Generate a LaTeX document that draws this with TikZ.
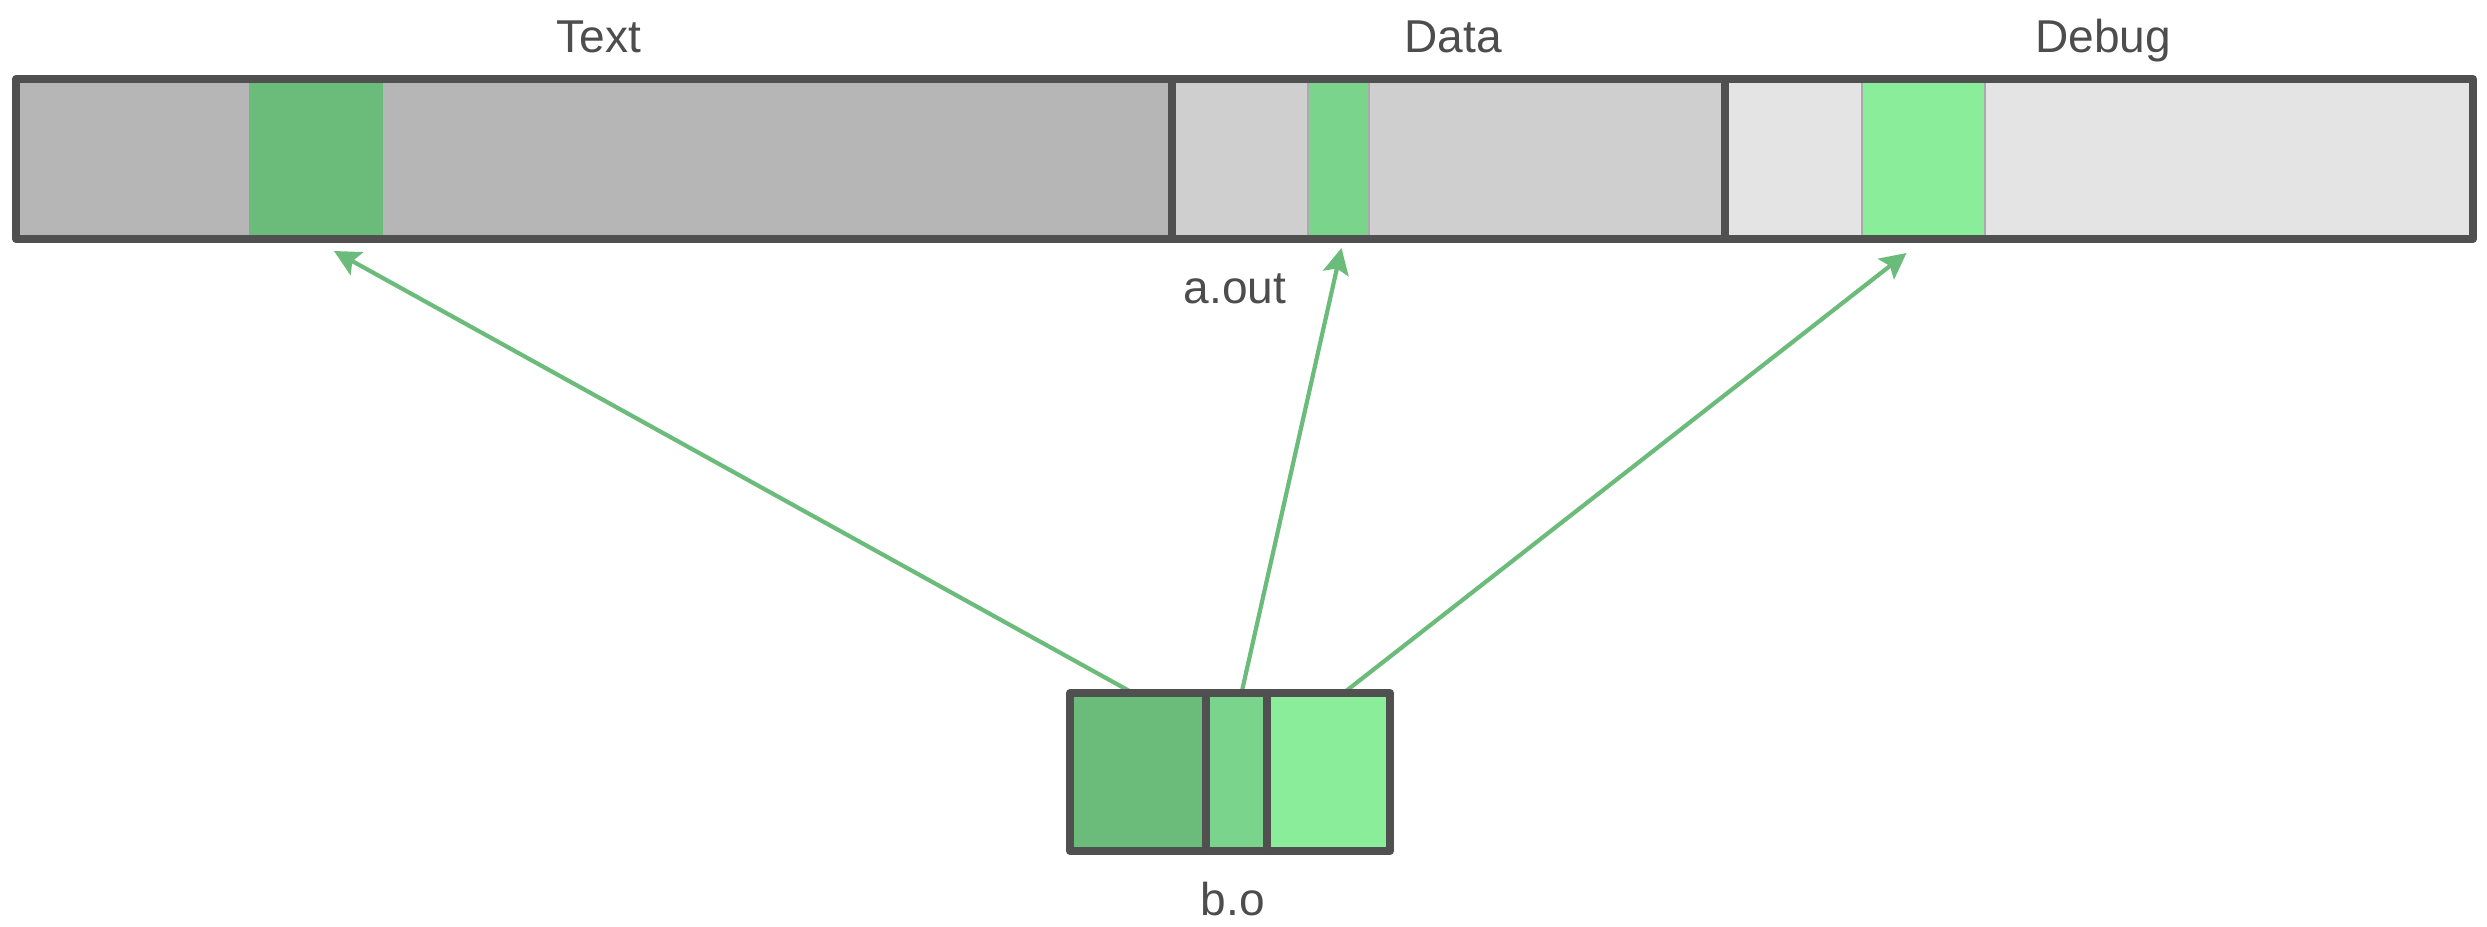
\documentclass[tikz,border=0pt]{standalone}
\usepackage{fontspec}
\setmainfont{Liberation Sans}
\usetikzlibrary{arrows.meta,calc,fit}
\definecolor{frame}{HTML}{505050}
\definecolor{ink}{HTML}{4D4D4D}
\definecolor{grayA}{HTML}{B6B6B6}
\definecolor{grayB}{HTML}{CFCFCF}
\definecolor{grayC}{HTML}{E4E4E4}
\definecolor{greenA}{HTML}{6BBB7A}
\definecolor{greenB}{HTML}{7BD48C}
\definecolor{greenC}{HTML}{89ED9A}
\definecolor{edge}{HTML}{AAAAAA}
\begin{document}
\begin{tikzpicture}[x=0.01cm,y=-0.01cm,
  part/.style={rectangle,inner sep=0pt,outer sep=0pt,draw=none},
  strip/.style={part,draw=edge,line width=0.4pt},
  border/.style={draw=frame,line width=0.08cm,line join=round,line cap=round},
  lbl/.style={text=ink,font=\fontsize{13.1pt}{15pt}\selectfont,inner sep=0pt,anchor=base},
  link/.style={draw=greenA,line width=0.042cm,-{Stealth[length=0.26cm,width=0.26cm,inset=0.05cm]}}]
\useasboundingbox (0,0) rectangle (2487,927);

% object file a.out: three sections
\node[part,fill=grayA,fit={(16,79)(1172,239)}] (textseg) {};
\node[part,fill=grayB,fit={(1172,79)(1725,239)}] (dataseg) {};
\node[part,fill=grayC,fit={(1725,79)(2473,239)}] (debugseg) {};

% pieces contributed by b.o
\node[part,fill=greenA,fit={(249,79)(383,239)}] (textpiece) {};
\node[strip,fill=greenB,fit={(1308,79)(1369,239)}] (datapiece) {};
\node[strip,fill=greenC,fit={(1862,79)(1985,239)}] (debugpiece) {};

\draw[border] (textseg.north west) rectangle (debugseg.south east);
\draw[border] (textseg.north east) -- (textseg.south east);
\draw[border] (dataseg.north east) -- (dataseg.south east);

% section titles
\node[lbl] (textlbl) at (599,52) {Text};
\node[lbl] (datalbl) at (1453,52) {Data};
\node[lbl] (debuglbl) at (2103,52) {Debug};
\node[lbl] (aoutlbl) at (1235,303) {a.out};

% object file b.o
\node[part,fill=greenA,fit={(1070,693)(1206,851)}] (btext) {};
\node[part,fill=greenB,fit={(1206,693)(1267,851)}] (bdata) {};
\node[part,fill=greenC,fit={(1267,693)(1390,851)}] (bdebug) {};
\node[lbl] (bolbl) at (1233,915) {b.o};

% arrow end points
\coordinate (s1) at ($(btext.north)+(-5,0)$);
\coordinate (s2) at ($(bdata.north)+(5,0)$);
\coordinate (s3) at ($(bdebug.north)+(15,0)$);
\coordinate (t1) at ($(textpiece.south)+(18,12)$);
\coordinate (t2) at ($(datapiece.south)+(3,9)$);
\coordinate (t3) at ($(debugpiece.south)+(-17,14)$);

\draw[link] (s1) -- (t1);
\draw[link] (s2) -- (t2);
\draw[link] (s3) -- (t3);

\draw[border] (btext.north west) rectangle (bdebug.south east);
\draw[border] (btext.north east) -- (btext.south east);
\draw[border] (bdata.north east) -- (bdata.south east);
\end{tikzpicture}
\end{document}
